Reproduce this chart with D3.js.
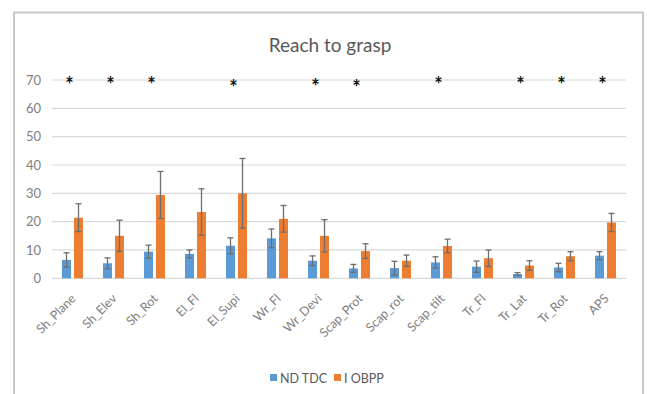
<!DOCTYPE html>
<html><head><meta charset="utf-8">
<script src="https://cdn.jsdelivr.net/npm/d3@7"></script>
<style>
html,body{margin:0;padding:0;background:#fff;}
svg{display:block;}
text{font-family:Lato,"Open Sans","Liberation Sans",sans-serif;}
</style></head>
<body>
<svg id="chart" width="647" height="394"></svg>
<script>
const categories = ["Sh_Plane","Sh_Elev","Sh_Rot","El_Fl","El_Supi","Wr_Fl","Wr_Devi","Scap_Prot","Scap_rot","Scap_tilt","Tr_Fl","Tr_Lat","Tr_Rot","APS"];
const seriesNames = ["ND TDC","I OBPP"];
const ndTdc =      [6.5, 5.3, 9.4, 8.6, 11.5, 14.1, 6.2, 3.5, 3.6, 5.6, 4.1, 1.5, 3.8, 8.0];
const ndTdcErr =   [2.5, 1.9, 2.3, 1.4, 2.8, 3.3, 1.7, 1.4, 2.4, 2.0, 2.0, 0.5, 1.5, 1.4];
const iObpp =      [21.4, 15.0, 29.4, 23.4, 30.0, 21.0, 15.0, 9.6, 6.2, 11.4, 7.1, 4.5, 7.8, 19.7];
const iObppErr =   [4.9, 5.5, 8.3, 8.2, 12.3, 4.7, 5.7, 2.6, 2.0, 2.4, 2.9, 1.7, 1.6, 3.2];
const yTicks = [0,10,20,30,40,50,60,70];
const starCats = ["Sh_Plane","Sh_Elev","Sh_Rot","El_Supi","Wr_Devi","Scap_Prot","Scap_tilt","Tr_Lat","Tr_Rot","APS"];
const starY =    [70, 70, 70, 69, 69.2, 69, 70, 70, 70, 70];
const colors = ["#5b9bd5","#ed7d31"];

const svg = d3.select("#chart");
const plotLeft = 52, plotRight = 626, plotTop = 80, plotBottom = 278.3;

// frame
svg.append("rect").attr("x",14).attr("y",12.5).attr("width",629).attr("height",400)
  .attr("fill","#fff").attr("stroke","#c8c8c8").attr("stroke-width",2);

const x = d3.scaleBand().domain(categories).range([plotLeft,plotRight]).paddingInner(0).paddingOuter(0);
const y = d3.scaleLinear().domain([0,70]).range([plotBottom,plotTop]);

// gridlines
svg.append("g").selectAll("line").data(yTicks).join("line")
  .attr("x1",plotLeft).attr("x2",plotRight)
  .attr("y1",d=>y(d)).attr("y2",d=>y(d))
  .attr("stroke","#d9d9d9").attr("stroke-width",1.2);

// y axis labels
const yAxis = d3.axisLeft(y).tickValues(yTicks).tickSize(0).tickPadding(0);
const gy = svg.append("g").attr("transform",`translate(41,0)`).call(yAxis);
gy.select(".domain").remove();
gy.selectAll("text").attr("fill","#808080").attr("font-size",13);

// title
svg.append("text").attr("x",330).attr("y",52).attr("text-anchor","middle")
  .attr("font-size",19).attr("fill","#595959").text("Reach to grasp");

const barW = 9, off = 6;
const data = [ndTdc, iObpp], errs = [ndTdcErr, iObppErr];
data.forEach((vals,s)=>{
  const cx = (c)=> x(c) + x.bandwidth()/2 + (s===0 ? -off : off);
  svg.append("g").selectAll("rect").data(categories).join("rect")
    .attr("x",(c)=>cx(c)-barW/2)
    .attr("y",(c,i)=>y(vals[i]))
    .attr("width",barW)
    .attr("height",(c,i)=>y(0)-y(vals[i]))
    .attr("fill",colors[s]);
  const eg = svg.append("g").attr("stroke","#6e6e6e").attr("stroke-width",1.3);
  categories.forEach((c,i)=>{
    const hi = y(vals[i]+errs[s][i]), lo = y(Math.max(0,vals[i]-errs[s][i]));
    eg.append("line").attr("x1",cx(c)).attr("x2",cx(c)).attr("y1",hi).attr("y2",lo);
    eg.append("line").attr("x1",cx(c)-3).attr("x2",cx(c)+3).attr("y1",hi).attr("y2",hi);
    eg.append("line").attr("x1",cx(c)-3).attr("x2",cx(c)+3).attr("y1",lo).attr("y2",lo);
  });
});

// x labels rotated -45deg
svg.append("g").selectAll("text").data(categories).join("text")
  .attr("transform",c=>`translate(${x(c)+x.bandwidth()/2+4},${plotBottom+21}) rotate(-45)`)
  .attr("text-anchor","end")
  .attr("fill","#808080").attr("font-size",12.5)
  .text(c=>c);

// asterisks
svg.append("g").selectAll("text").data(starCats).join("text")
  .attr("x",c=>x(c)+x.bandwidth()/2 - 3)
  .attr("y",(c,i)=>y(starY[i]) + 12)
  .attr("text-anchor","middle")
  .attr("font-family","DejaVu Sans")
  .attr("font-weight","bold")
  .attr("font-size",20).attr("fill","#111")
  .text("*");

// legend
const lg = svg.append("g").attr("transform","translate(0,378)");
const legX = [270, 334];
seriesNames.forEach((n,i)=>{
  lg.append("rect").attr("x",legX[i]).attr("y",-4).attr("width",7).attr("height",7).attr("fill",colors[i]);
  lg.append("text").attr("x",legX[i]+10).attr("y",4.5).attr("font-size",12.5).attr("fill","#595959").text(n);
});
</script>
</body></html>
